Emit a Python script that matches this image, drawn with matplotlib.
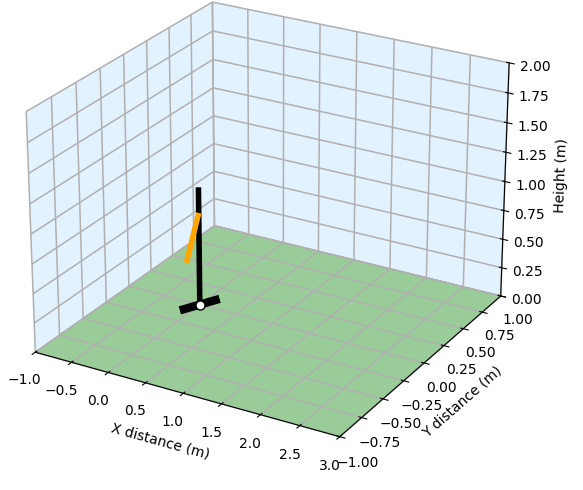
import numpy as np
import matplotlib
matplotlib.use("Agg")
import matplotlib.pyplot as plt

x_limits = [-1.0, 3.0]
y_limits = [-1.0, 1.0]
z_limits = [0.0, 2.0]

# body and foot segments, (x, y, z)
body_x = [0.0, 0.0]
body_y = [0.0, 0.0]
body_z = [0.0, 1.02]
foot_x = [-0.125, 0.125]
foot_y = [-0.125, 0.125]
foot_z = [0.0, 0.0]
arm_x = [0.0, -0.08]
arm_y = [0.0, -0.08]
arm_z = [0.8, 0.4]

fig = plt.figure(figsize=(5.83, 4.9), dpi=100)
ax = fig.add_axes([-0.095, 0.012, 1.1, 1.1], projection="3d")
ax.view_init(elev=24.5, azim=-60)

ax.plot(body_x, body_y, body_z, color="black", lw=4, solid_capstyle="butt", zorder=5)
ax.plot(foot_x, foot_y, foot_z, color="black", lw=6, solid_capstyle="butt", zorder=5)
ax.plot(arm_x, arm_y, arm_z, color="orange", lw=4, solid_capstyle="butt", zorder=6)
ax.plot([0], [0], [0], "o", color="white", mec="black", ms=6.5, zorder=7)

ax.set_xlim(x_limits)
ax.set_ylim(y_limits)
ax.set_zlim(z_limits)
ax.set_xlabel("X distance (m)")
ax.set_ylabel("Y distance (m)")
ax.set_zlabel("Height (m)")

ax.xaxis.set_pane_color((0.89, 0.95, 1.0, 1.0))
ax.yaxis.set_pane_color((0.89, 0.95, 1.0, 1.0))
ax.zaxis.set_pane_color((0.6, 0.8, 0.6, 1.0))
for axis in (ax.xaxis, ax.yaxis, ax.zaxis):
    axis._axinfo["grid"]["linewidth"] = 1.1

fig.savefig("out.png", dpi=100)
